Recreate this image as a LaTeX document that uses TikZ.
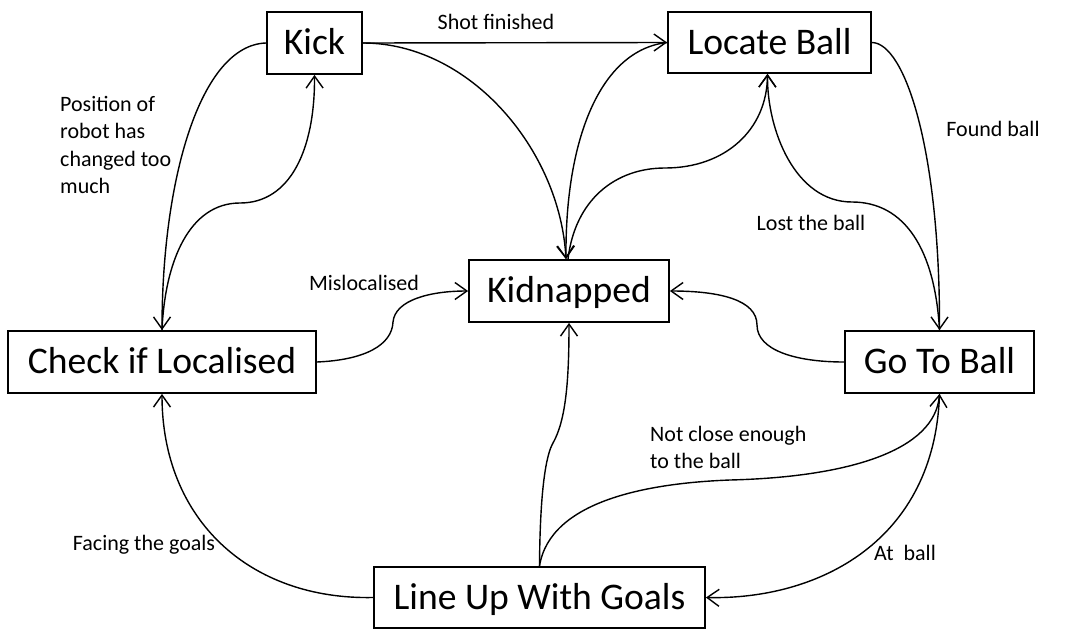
\documentclass[tikz,border=0pt]{standalone}
\usepackage{fontspec}
\setmainfont{Carlito}
\usetikzlibrary{arrows.meta}
\begin{document}
\begin{tikzpicture}[x=1pt,y=-1pt,
  state/.style={draw, line width=1.8pt, inner sep=0pt, text height=23pt, text depth=0pt,
    font=\fontsize{37.6}{40}\selectfont},
  lbl/.style={inner sep=0pt, text height=14pt, text depth=0pt, font=\fontsize{22}{27.5}\selectfont},
  mlbl/.style={inner sep=0pt, align=left, font=\fontsize{22}{27.5}\selectfont},
  conn/.style={line width=1.4pt},
  arr/.style={conn, -{Straight Barb[length=12pt,width=17pt]}}]
\useasboundingbox (0,0) rectangle (1073,632);
% states
\node[state, minimum width=95pt, minimum height=62pt] (kick) at (314.5,43) {Kick};
\node[state, minimum width=203pt, minimum height=61pt] (locate) at (769.5,42.5) {Locate Ball};
\node[state, minimum width=200pt, minimum height=62pt] (kid) at (569,291) {Kidnapped};
\node[state, minimum width=308pt, minimum height=62pt] (check) at (162,362) {Check if Localised};
\node[state, minimum width=189pt, minimum height=62pt] (goto) at (939.5,362) {Go To Ball};
\node[state, minimum width=331pt, minimum height=61pt] (lineup) at (539.5,597.5) {Line Up With Goals};
% labels
\node[lbl] (l1) at (496,22) {Shot finished};
\node[mlbl, anchor=north west] (l2) at (60,96) {Position of\\robot has\\changed too\\much};
\node[lbl] (l3) at (364,283) {Mislocalised};
\node[lbl] (l4) at (993,129) {Found ball};
\node[lbl] (l5) at (811,223) {Lost the ball};
\node[mlbl, anchor=north west] (l6) at (650,426) {Not close enough\\to the ball};
\node[lbl] (l7) at (144,543) {Facing the goals};
\node[lbl] (l8) at (905,553) {At~ ball};
% connectors
\draw[arr] (kick.east) -- (locate.west);
\draw[arr] (kick.east) .. controls (470,43) and (560,150) .. ([xshift=-3pt]kid.north);
\draw[arr] (locate.west) .. controls (600,50) and (565,140) .. ([xshift=-3pt]kid.north);
\draw[arr] ([xshift=-1pt]kid.north) .. controls (575,200) and (615,168) .. (665,168)
   .. controls (725,168) and (767,130) .. ([xshift=-2pt]locate.south);
\draw[arr] (locate.east) .. controls (905,43) and (940,150) .. (goto.north);
\draw[arr] (goto.north) .. controls (935,250) and (905,202) .. (852,202)
   .. controls (795,202) and (767,130) .. ([xshift=-2pt]locate.south);
\draw[arr] (goto.west) .. controls (795,362) and (757,350) .. (757,325)
   .. controls (757,300) and (720,291) .. (kid.east);
\draw[arr] (check.east) .. controls (365,360) and (392,345) .. (393,322)
   .. controls (395,300) and (430,291) .. (kid.west);
\draw[arr] (kick.west) .. controls (200,45) and (162,180) .. (check.north);
\draw[arr] (check.north) .. controls (165,260) and (190,203) .. (240,203)
   .. controls (290,203) and (315,150) .. (kick.south);
\draw[arr] (lineup.west) .. controls (250,600) and (162,520) .. (check.south);
\draw[arr] (lineup.north) .. controls (540,490) and (546,455) .. (553,443)
   .. controls (566,420) and (569,380) .. (kid.south);
\draw[arr] (lineup.north) .. controls (550,500) and (650,483) .. (730,480)
   .. controls (850,477) and (935,450) .. (goto.south);
\draw[arr] (goto.south) .. controls (935,540) and (820,600) .. (lineup.east);
\end{tikzpicture}
\end{document}
